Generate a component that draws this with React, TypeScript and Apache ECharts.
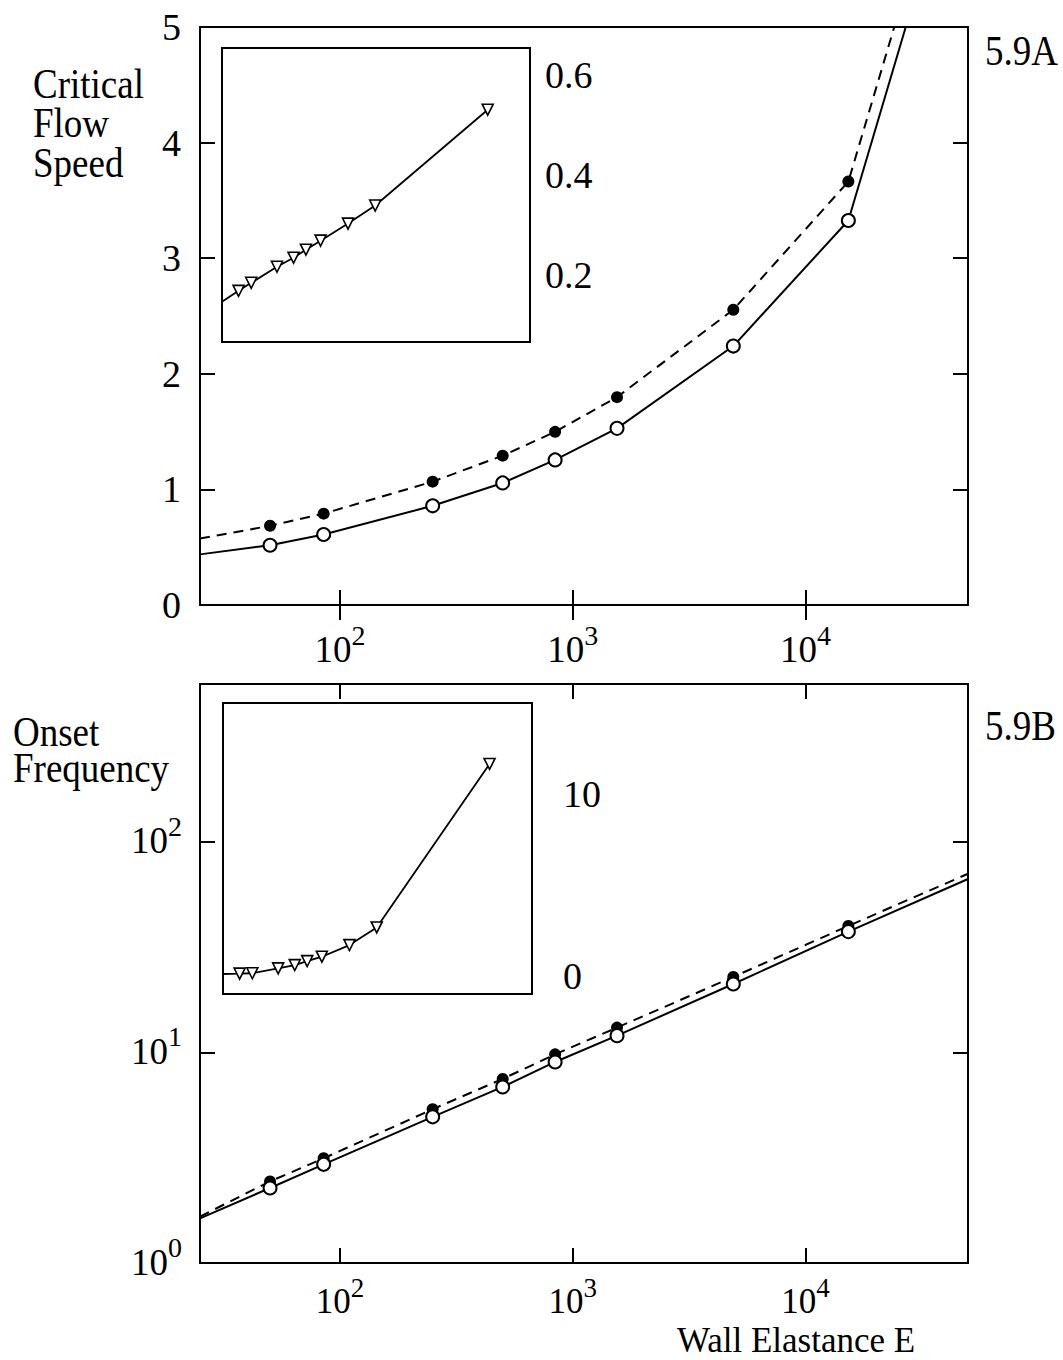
import React, { useEffect, useRef } from "react";
import * as echarts from "echarts";

// ---- data ----
const wallE = [50, 85, 250, 500, 840, 1550, 4900, 15300];
const speedOpen = [0.517, 0.61, 0.858, 1.056, 1.255, 1.528, 2.24, 3.326];
const speedFilled = [0.685, 0.79, 1.067, 1.292, 1.498, 1.798, 2.554, 3.663];
const speedOpenEnds = [[25, 0.438], [27000, 5.0]];
const speedFilledEnds = [[25, 0.575], [24100, 5.0]];

const freqOpen = [2.27, 2.94, 4.94, 6.85, 9.0, 12.0, 21.1, 37.4];
const freqFilled = [2.44, 3.14, 5.37, 7.48, 9.78, 13.1, 22.8, 39.8];
const freqOpenEnds = [[25, 1.63], [50000, 66.5]];
const freqFilledEnds = [[25, 1.66], [50000, 70.4]];

const insetE = [50, 85, 250, 500, 840, 1550, 4900, 15300, 1700000];
const speedDiff = [0.169, 0.185, 0.217, 0.235, 0.251, 0.269, 0.303, 0.339, 0.53];
const speedDiffStart = [25, 0.147];
const freqDiff = [0.12, 0.14, 0.41, 0.59, 0.81, 1.05, 1.69, 2.66, 11.65];
const freqDiffStart = [25, 0.1];

const mainXTicks = [100, 1000, 10000];
const insetXTicks = [100, 1000, 10000, 100000, 1000000];
const speedTicks = [0, 1, 2, 3, 4, 5];
const freqTicks = [1, 10, 100];
const speedDiffTicks = [0.2, 0.4, 0.6];
const freqDiffTicks = [0, 10];

const FONT = "'Liberation Serif', 'Times New Roman', serif";

const zip = (xs: number[], ys: number[]) => xs.map((x, i) => [x, ys[i]]);

const makeRich = (big: number, small: number) => ({
  b: { fontSize: big, fontFamily: FONT, color: "#000", padding: [10, 0, 0, 0], verticalAlign: "bottom" },
  s: { fontSize: small, fontFamily: FONT, color: "#000", verticalAlign: "top" },
});
const powRich = makeRich(37, 28);
const powRichLow = makeRich(35, 27);
const powFmt = (v: number) => `{b|10}{s|${Math.round(Math.log10(v))}}`;

const tickStyle = (len: number, values?: number[]) => ({
  show: true,
  inside: true,
  length: len,
  lineStyle: { color: "#000", width: 2 },
  ...(values ? { customValues: values } : {}),
});

const noLine = { show: false };

function buildOption() {
  const xAxis: any[] = [
    {
      type: "log", gridIndex: 0, position: "bottom", min: 25, max: 50000,
      axisLine: noLine, splitLine: { show: false }, minorTick: { show: false },
      axisTick: tickStyle(15, mainXTicks),
      axisLabel: { customValues: mainXTicks, formatter: powFmt, rich: powRich, margin: 16 },
    },
    {
      type: "log", gridIndex: 0, position: "top", min: 25, max: 50000,
      axisLine: noLine, splitLine: { show: false },
      axisTick: tickStyle(15, mainXTicks), axisLabel: { show: false },
    },
    {
      type: "log", gridIndex: 1, position: "bottom", min: 25, max: 10000000,
      axisLine: noLine, splitLine: { show: false },
      axisTick: tickStyle(17, insetXTicks), axisLabel: { show: false },
    },
    {
      type: "log", gridIndex: 2, position: "bottom", min: 25, max: 50000,
      axisLine: noLine, splitLine: { show: false },
      axisTick: tickStyle(15, mainXTicks),
      axisLabel: { customValues: mainXTicks, formatter: powFmt, rich: powRichLow, margin: 11 },
    },
    {
      type: "log", gridIndex: 2, position: "top", min: 25, max: 50000,
      axisLine: noLine, splitLine: { show: false },
      axisTick: tickStyle(15, mainXTicks), axisLabel: { show: false },
    },
    {
      type: "log", gridIndex: 3, position: "bottom", min: 25, max: 10000000,
      axisLine: noLine, splitLine: { show: false },
      axisTick: tickStyle(17, insetXTicks), axisLabel: { show: false },
    },
  ];

  const yAxis: any[] = [
    {
      type: "value", gridIndex: 0, position: "left", min: 0, max: 5,
      axisLine: noLine, splitLine: { show: false },
      axisTick: tickStyle(15, speedTicks),
      axisLabel: { customValues: speedTicks, fontSize: 38, fontFamily: FONT, color: "#000", margin: 19 },
    },
    {
      type: "value", gridIndex: 0, position: "right", min: 0, max: 5,
      axisLine: noLine, splitLine: { show: false },
      axisTick: tickStyle(15, speedTicks), axisLabel: { show: false },
    },
    {
      type: "value", gridIndex: 1, position: "right", min: 0.067, max: 0.653,
      axisLine: noLine, splitLine: { show: false },
      axisTick: tickStyle(15, speedDiffTicks),
      axisLabel: {
        customValues: speedDiffTicks, fontSize: 38, fontFamily: FONT, color: "#000", margin: 15,
        formatter: (v: number) => v.toFixed(1),
      },
    },
    {
      type: "log", gridIndex: 2, position: "left", min: 1, max: 560,
      axisLine: noLine, splitLine: { show: false }, minorTick: { show: false },
      axisTick: tickStyle(15, freqTicks),
      axisLabel: { customValues: freqTicks, formatter: powFmt, rich: powRich, margin: 18, padding: [0, 0, 12, 0] },
    },
    {
      type: "log", gridIndex: 2, position: "right", min: 1, max: 560,
      axisLine: noLine, splitLine: { show: false },
      axisTick: tickStyle(15, freqTicks), axisLabel: { show: false },
    },
    {
      type: "value", gridIndex: 3, position: "right", min: -1, max: 15,
      axisLine: noLine, splitLine: { show: false },
      axisTick: tickStyle(15, freqDiffTicks),
      axisLabel: { customValues: freqDiffTicks, fontSize: 38, fontFamily: FONT, color: "#000", margin: 31 },
    },
  ];

  const solid = { color: "#000", width: 2 };
  const dashed = { color: "#000", width: 2, type: [10, 7] };
  const openItem = { color: "#fff", borderColor: "#000", borderWidth: 2, opacity: 1 };
  const filledItem = { color: "#000", opacity: 1 };
  const triItem = { color: "#fff", borderColor: "#000", borderWidth: 1.6, opacity: 1 };

  const line = (x: number, y: number, data: any[], style: any) => ({
    type: "line", xAxisIndex: x, yAxisIndex: y, data, showSymbol: false, symbol: "none",
    lineStyle: style, silent: true, z: 2,
  });
  const dots = (x: number, y: number, data: any[], size: number, item: any, extra: any = {}) => ({
    type: "scatter", xAxisIndex: x, yAxisIndex: y, data, symbol: "circle", symbolSize: size,
    itemStyle: item, silent: true, z: 3, ...extra,
  });

  const series: any[] = [
    line(0, 0, [speedOpenEnds[0], ...zip(wallE, speedOpen), speedOpenEnds[1]], solid),
    line(0, 0, [speedFilledEnds[0], ...zip(wallE, speedFilled), speedFilledEnds[1]], dashed),
    dots(0, 0, zip(wallE, speedFilled), 12, filledItem),
    dots(0, 0, zip(wallE, speedOpen), 13, openItem),
    line(2, 2, [speedDiffStart, ...zip(insetE, speedDiff)], { color: "#000", width: 1.8 }),
    dots(2, 2, zip(insetE, speedDiff), 11, triItem, { symbol: "triangle", symbolRotate: 180 }),
    line(3, 3, [freqOpenEnds[0], ...zip(wallE, freqOpen), freqOpenEnds[1]], solid),
    line(3, 3, [freqFilledEnds[0], ...zip(wallE, freqFilled), freqFilledEnds[1]], dashed),
    dots(3, 3, zip(wallE, freqFilled), 12, filledItem),
    dots(3, 3, zip(wallE, freqOpen), 13, openItem),
    line(5, 5, [freqDiffStart, ...zip(insetE, freqDiff)], { color: "#000", width: 1.8 }),
    dots(5, 5, zip(insetE, freqDiff), 11, triItem, { symbol: "triangle", symbolRotate: 180 }),
  ];

  const gridBase = { show: true, borderColor: "#000", borderWidth: 2, outerBoundsMode: "none", containLabel: false };

  const SY = 1.12;
  const txt = (text: string, x: number, y: number, extra: any = {}, sy: number = SY) => ({
    type: "text", x, y, scaleY: sy, silent: true,
    style: { text, fontSize: 37, fontFamily: FONT, fill: "#000", align: "left", verticalAlign: "middle", ...extra },
  });

  return {
    animation: false,
    backgroundColor: "#fff",
    grid: [
      { ...gridBase, left: 200, top: 27, width: 768, height: 578, backgroundColor: "transparent" },
      { ...gridBase, left: 222, top: 48, width: 308, height: 294, backgroundColor: "#fff", z: 1 },
      { ...gridBase, left: 200, top: 684, width: 768, height: 579, backgroundColor: "transparent" },
      { ...gridBase, left: 223, top: 703, width: 309, height: 291, backgroundColor: "#fff", z: 1 },
    ],
    xAxis,
    yAxis,
    series,
    graphic: [
      txt("Critical\nFlow\nSpeed", 33, 63.75, { verticalAlign: "top", lineHeight: 35.3 }),
      txt("5.9A", 985, 50.5, { lineHeight: 30 }),
      txt("Onset\nFrequency", 13, 713.1, { verticalAlign: "top", lineHeight: 32.8 }),
      txt("5.9B", 985, 725.5, { lineHeight: 30 }),
      txt("Wall Elastance E", 677, 1340.5, { fontSize: 35, lineHeight: 23 }, 1),
    ],
  };
}

export default function App() {
  const ref = useRef<HTMLDivElement>(null);
  useEffect(() => {
    if (!ref.current) return;
    const chart = echarts.init(ref.current, null, { renderer: "svg" });
    chart.setOption(buildOption() as any);
    return () => chart.dispose();
  }, []);
  return (
    <div
      ref={ref}
      style={{ position: "absolute", left: 0, top: 0, width: 1063, height: 1360, background: "#fff" }}
    />
  );
}
